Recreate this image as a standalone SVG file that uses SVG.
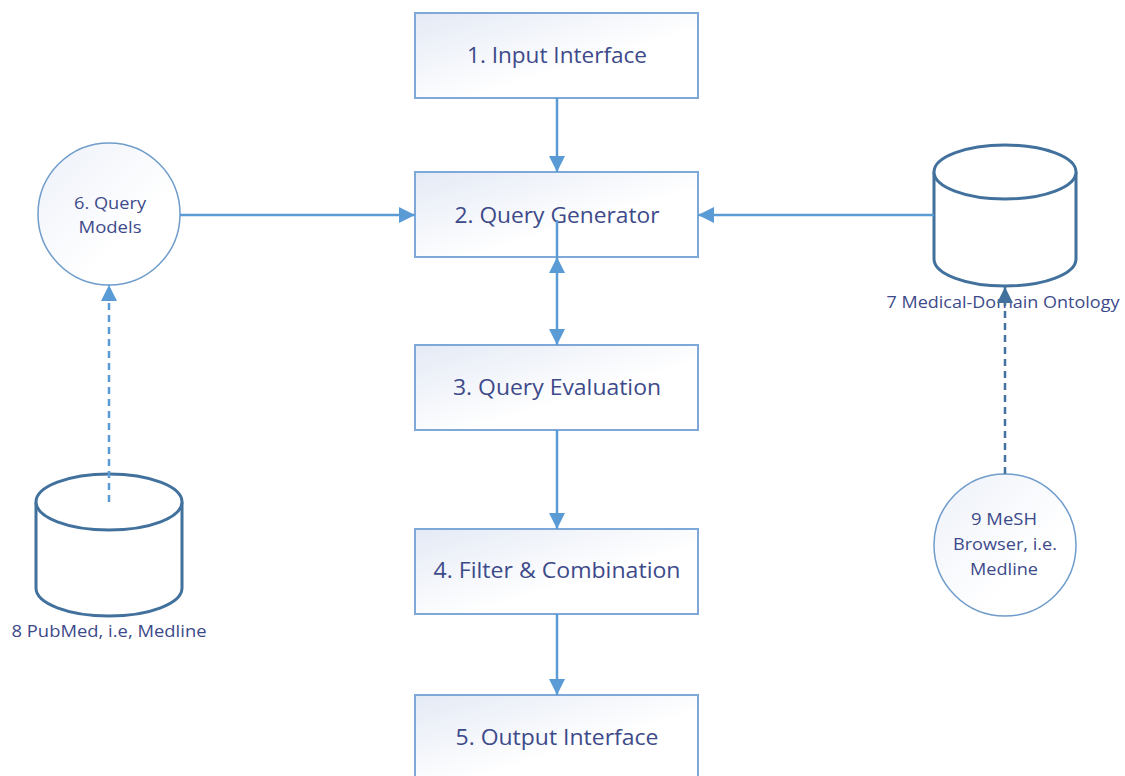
<svg xmlns="http://www.w3.org/2000/svg" width="1125" height="776" viewBox="0 0 1125 776">
  <defs>
    <linearGradient id="boxFill" x1="0" y1="0" x2="1" y2="1">
      <stop offset="0" stop-color="#E4EAF5"/>
      <stop offset="0.6" stop-color="#FFFFFF"/>
      <stop offset="1" stop-color="#FFFFFF"/>
    </linearGradient>
    <linearGradient id="circFill" x1="0" y1="0" x2="1" y2="1">
      <stop offset="0" stop-color="#EDF1F9"/>
      <stop offset="0.65" stop-color="#FFFFFF"/>
      <stop offset="1" stop-color="#FFFFFF"/>
    </linearGradient>
    <marker id="arrow" viewBox="0 0 10 10" refX="10" refY="5" markerWidth="16" markerHeight="16" markerUnits="userSpaceOnUse" orient="auto-start-reverse">
      <path d="M0,0 L10,5 L0,10 z" fill="#5B9BD5"/>
    </marker>
    <marker id="arrowDark" viewBox="0 0 10 10" refX="10" refY="5" markerWidth="16" markerHeight="16" markerUnits="userSpaceOnUse" orient="auto">
      <path d="M0,0 L10,5 L0,10 z" fill="#41719C"/>
    </marker>
  </defs>
  <style>
    .box { fill: url(#boxFill); stroke: #7EA8D8; stroke-width: 2; }
    .circ { fill: url(#circFill); stroke: #6F9CCB; stroke-width: 1.5; }
    .cyl { fill: #FFFFFF; stroke: #41719C; stroke-width: 3; }
    .lbl { font-family: "Open Sans", "Noto Sans", "Liberation Sans", sans-serif; fill: #3D4A8A; text-anchor: middle; }
    .big { font-size: 22px; }
    .small { font-size: 17px; }
    .link { fill: none; stroke: #5B9BD5; stroke-width: 2.5; }
    .dash { stroke-dasharray: 7 5; }
    .dark { stroke: #41719C; }
  </style>

  <!-- pipeline boxes -->
  <g id="input-interface">
    <rect class="box" x="415" y="13" width="283" height="85"/>
    <text class="lbl big" x="557" y="63" textLength="180" lengthAdjust="spacingAndGlyphs">1. Input Interface</text>
  </g>
  <g id="query-generator">
    <rect class="box" x="415" y="172" width="283" height="85"/>
    <text class="lbl big" x="557" y="223" textLength="205" lengthAdjust="spacingAndGlyphs">2. Query Generator</text>
  </g>
  <g id="query-evaluation">
    <rect class="box" x="415" y="345" width="283" height="85"/>
    <text class="lbl big" x="557" y="395" textLength="208" lengthAdjust="spacingAndGlyphs">3. Query Evaluation</text>
  </g>
  <g id="filter-combination">
    <rect class="box" x="415" y="529" width="283" height="85"/>
    <text class="lbl big" x="557" y="578" textLength="247" lengthAdjust="spacingAndGlyphs">4. Filter &amp; Combination</text>
  </g>
  <g id="output-interface">
    <rect class="box" x="415" y="695" width="283" height="85"/>
    <text class="lbl big" x="557" y="745" textLength="203" lengthAdjust="spacingAndGlyphs">5. Output Interface</text>
  </g>

  <!-- side sources -->
  <g id="query-models">
    <circle class="circ" cx="109" cy="214" r="71"/>
    <text class="lbl small" x="110" y="209" textLength="72" lengthAdjust="spacingAndGlyphs">6. Query</text>
    <text class="lbl small" x="110" y="233" textLength="63" lengthAdjust="spacingAndGlyphs">Models</text>
  </g>
  <g id="medical-ontology">
    <path class="cyl" d="M934,172 L934,259 A71,27 0 0 0 1076,259 L1076,172"/>
    <ellipse class="cyl" cx="1005" cy="172" rx="71" ry="27"/>
    <text class="lbl small" x="1003" y="308" textLength="233" lengthAdjust="spacingAndGlyphs">7 Medical-Domain Ontology</text>
  </g>
  <g id="pubmed">
    <path class="cyl" d="M36,502 L36,588 A73,28 0 0 0 182,588 L182,502"/>
    <ellipse class="cyl" cx="109" cy="502" rx="73" ry="28"/>
    <text class="lbl small" x="109" y="637" textLength="195" lengthAdjust="spacingAndGlyphs">8 PubMed, i.e, Medline</text>
  </g>
  <g id="mesh-browser">
    <circle class="circ" cx="1005" cy="545" r="71"/>
    <text class="lbl small" x="1004" y="525" textLength="66" lengthAdjust="spacingAndGlyphs">9 MeSH</text>
    <text class="lbl small" x="1005" y="550" textLength="104" lengthAdjust="spacingAndGlyphs">Browser, i.e.</text>
    <text class="lbl small" x="1004" y="575" textLength="68" lengthAdjust="spacingAndGlyphs">Medline</text>
  </g>

  <!-- connectors -->
  <g id="connectors">
    <line class="link" x1="557" y1="98" x2="557" y2="172" marker-end="url(#arrow)"/>
    <line class="link" x1="557" y1="220" x2="557" y2="257"/>
    <line class="link" x1="557" y1="257" x2="557" y2="345" marker-start="url(#arrow)" marker-end="url(#arrow)"/>
    <line class="link" x1="557" y1="430" x2="557" y2="529" marker-end="url(#arrow)"/>
    <line class="link" x1="557" y1="614" x2="557" y2="695" marker-end="url(#arrow)"/>
    <line class="link" x1="180" y1="215" x2="415" y2="215" marker-end="url(#arrow)"/>
    <line class="link" x1="934" y1="215" x2="698" y2="215" marker-end="url(#arrow)"/>
    <line class="link dash" x1="109" y1="502" x2="109" y2="285" marker-end="url(#arrow)"/>
    <line class="link dash dark" x1="1005" y1="474" x2="1005" y2="287" marker-end="url(#arrowDark)"/>
  </g>
</svg>
